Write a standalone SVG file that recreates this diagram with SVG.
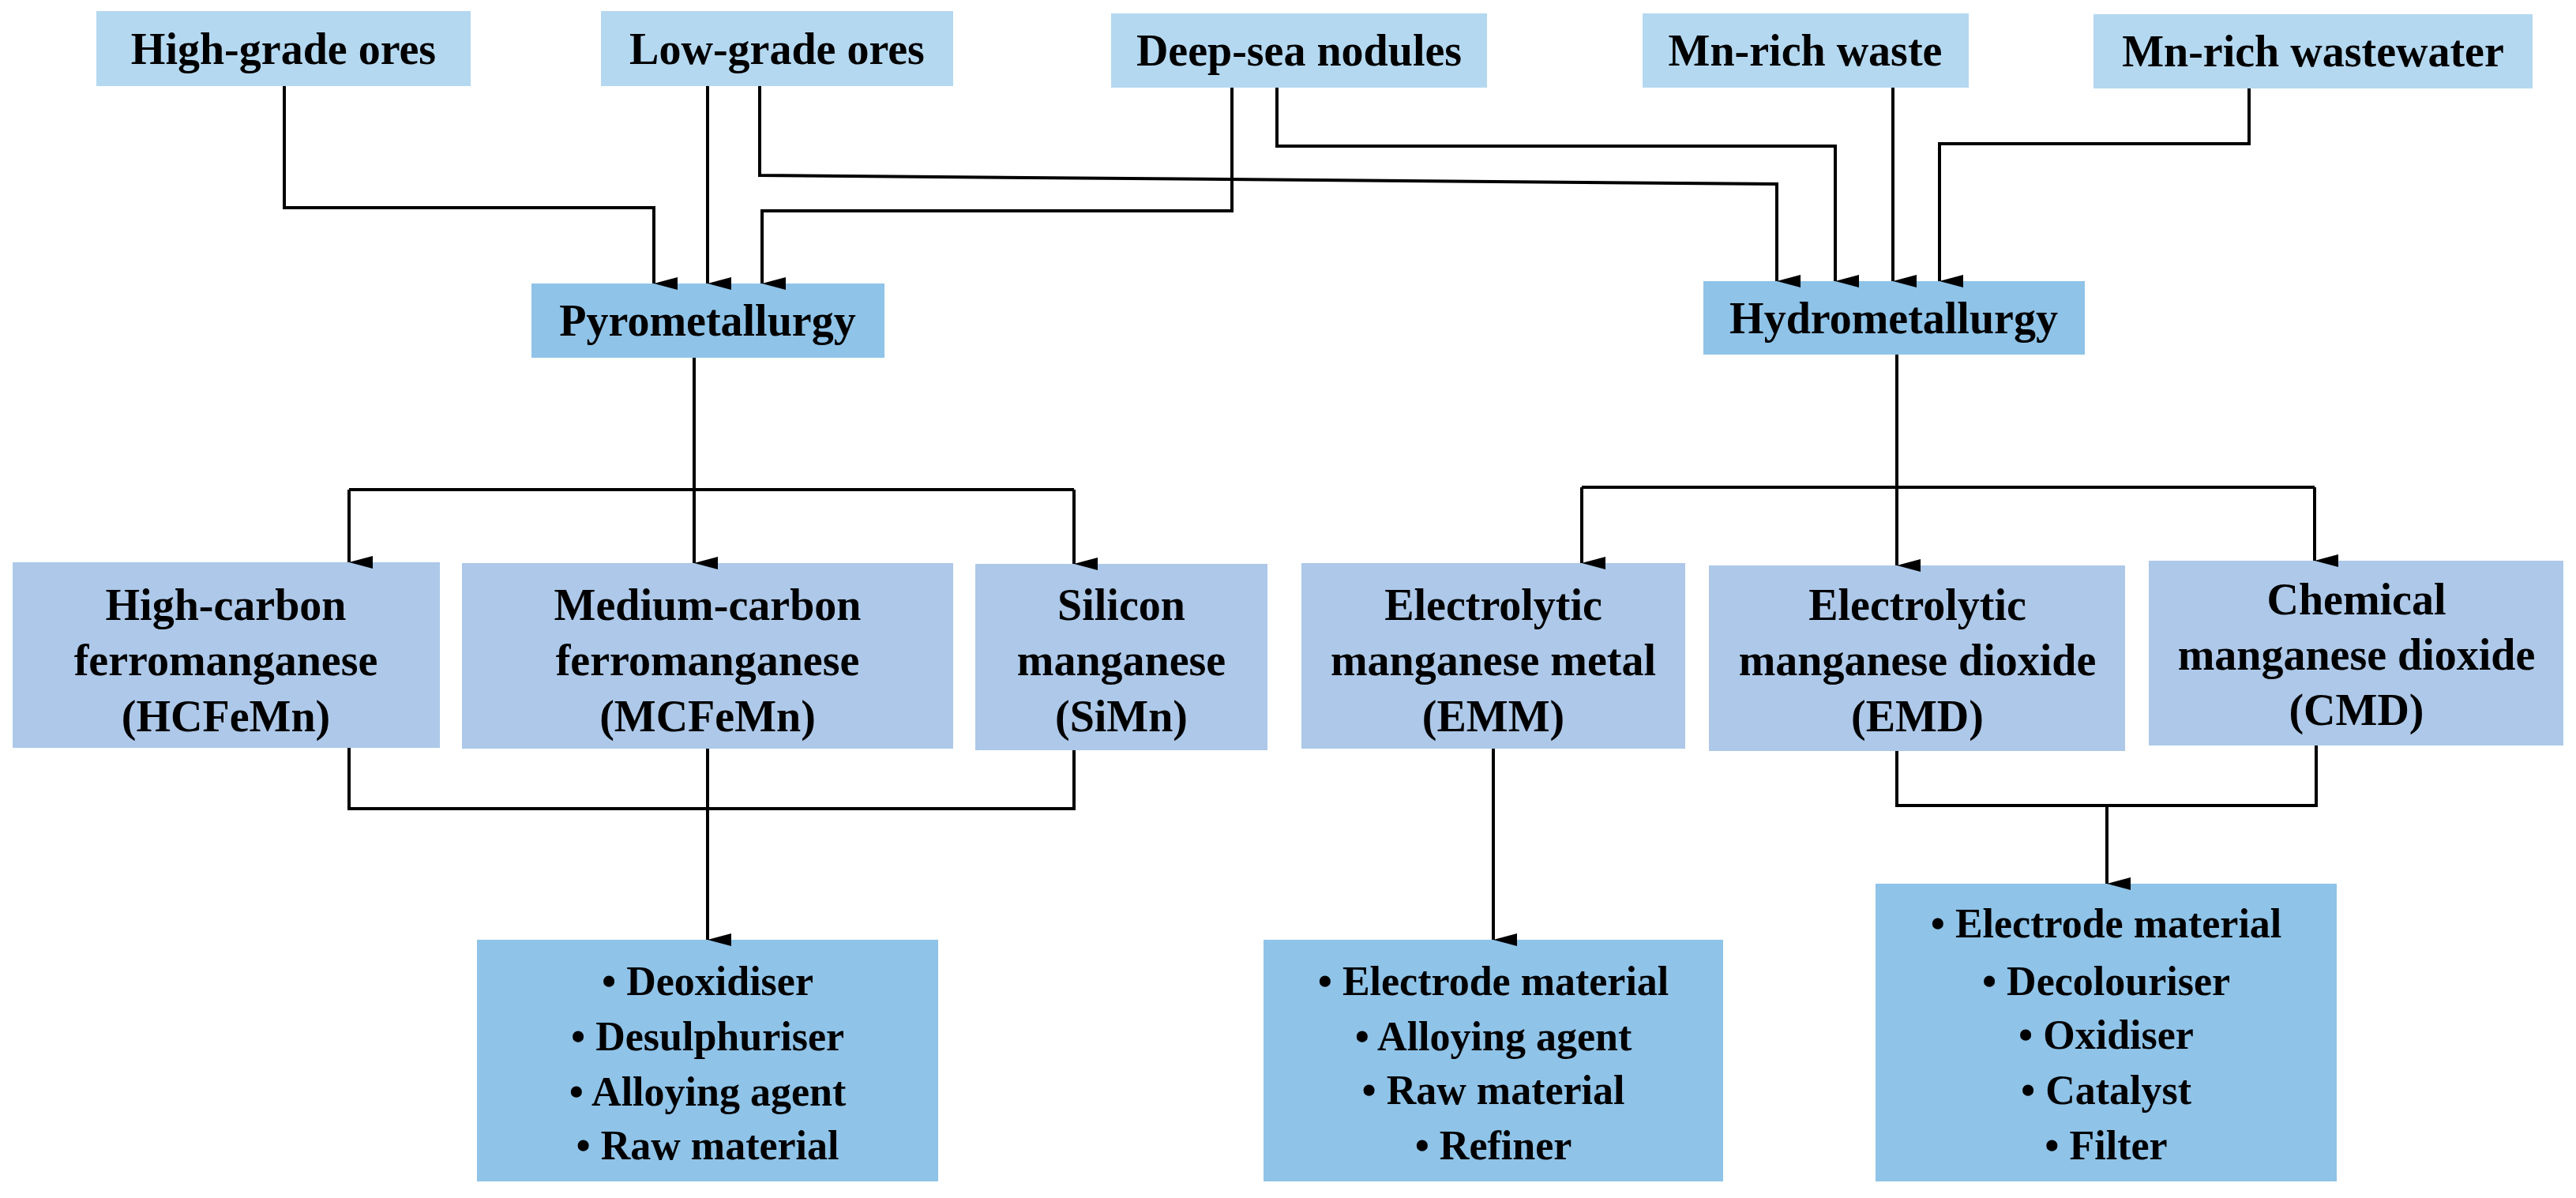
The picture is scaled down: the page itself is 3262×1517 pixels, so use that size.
<svg xmlns="http://www.w3.org/2000/svg" width="3262" height="1517" viewBox="0 0 3262 1517">
<style>
.src{fill:#b4d8f0}.proc{fill:#8fc3e8}.prod{fill:#adc8e8}.use{fill:#8fc3e8}
text{font-family:"Liberation Serif","Times New Roman",serif;font-weight:bold;fill:#000;text-anchor:middle}
.t{font-size:56px}.u{font-size:52px}
.c path{fill:none;stroke:#000;stroke-width:4}
</style>
<defs><marker id="a" markerWidth="16" markerHeight="30" refX="8" refY="30" orient="auto" markerUnits="userSpaceOnUse" viewBox="0 0 16 30"><path d="M0,0 L16,0 L8,30 Z" fill="#000" transform="rotate(0)"/></marker>
<marker id="ah" viewBox="0 0 30 16" refX="30" refY="8" markerWidth="30" markerHeight="16" orient="auto" markerUnits="userSpaceOnUse"><path d="M0,0 L30,8 L0,16 Z" fill="#000"/></marker></defs>
<g id="n-high"><rect class="src" x="122" y="14" width="474" height="95"/><text class="t" x="359" y="81">High-grade ores</text></g>
<g id="n-low"><rect class="src" x="761" y="14" width="446" height="95"/><text class="t" x="984" y="81">Low-grade ores</text></g>
<g id="n-deep"><rect class="src" x="1407" y="17" width="476" height="94"/><text class="t" x="1645" y="83">Deep-sea nodules</text></g>
<g id="n-waste"><rect class="src" x="2080" y="17" width="413" height="94"/><text class="t" x="2286" y="83">Mn-rich waste</text></g>
<g id="n-ww"><rect class="src" x="2651" y="18" width="556" height="94"/><text class="t" x="2929" y="84">Mn-rich wastewater</text></g>
<g id="n-pyro"><rect class="proc" x="673" y="359" width="447" height="94"/><text class="t" x="896" y="425">Pyrometallurgy</text></g>
<g id="n-hydro"><rect class="proc" x="2157" y="356" width="483" height="93"/><text class="t" x="2398" y="422">Hydrometallurgy</text></g>
<g id="n-hc"><rect class="prod" x="16" y="712" width="541" height="235"/><text class="t" x="286" y="785">High-carbon</text><text class="t" x="286" y="855">ferromanganese</text><text class="t" x="286" y="926">(HCFeMn)</text></g>
<g id="n-mc"><rect class="prod" x="585" y="713" width="622" height="235"/><text class="t" x="896" y="785">Medium-carbon</text><text class="t" x="896" y="855">ferromanganese</text><text class="t" x="896" y="926">(MCFeMn)</text></g>
<g id="n-si"><rect class="prod" x="1235" y="714" width="370" height="236"/><text class="t" x="1420" y="785">Silicon</text><text class="t" x="1420" y="855">manganese</text><text class="t" x="1420" y="926">(SiMn)</text></g>
<g id="n-emm"><rect class="prod" x="1648" y="713" width="486" height="235"/><text class="t" x="1891" y="785">Electrolytic</text><text class="t" x="1891" y="855">manganese metal</text><text class="t" x="1891" y="926">(EMM)</text></g>
<g id="n-emd"><rect class="prod" x="2164" y="716" width="527" height="235"/><text class="t" x="2428" y="785">Electrolytic</text><text class="t" x="2428" y="855">manganese dioxide</text><text class="t" x="2428" y="926">(EMD)</text></g>
<g id="n-cmd"><rect class="prod" x="2721" y="710" width="525" height="234"/><text class="t" x="2984" y="778">Chemical</text><text class="t" x="2984" y="848">manganese dioxide</text><text class="t" x="2984" y="918">(CMD)</text></g>
<g id="n-use1"><rect class="use" x="604" y="1190" width="584" height="306"/>
<text class="u" x="896" y="1260">•   Deoxidiser</text><text class="u" x="896" y="1330">•   Desulphuriser</text><text class="u" x="896" y="1400">•   Alloying agent</text><text class="u" x="896" y="1468">•   Raw material</text></g>
<g id="n-use2"><rect class="use" x="1600" y="1190" width="582" height="306"/>
<text class="u" x="1891" y="1260">•   Electrode material</text><text class="u" x="1891" y="1330">•   Alloying agent</text><text class="u" x="1891" y="1398">•   Raw material</text><text class="u" x="1891" y="1468">•   Refiner</text></g>
<g id="n-use3"><rect class="use" x="2375" y="1119" width="584" height="377"/>
<text class="u" x="2667" y="1187">•   Electrode material</text><text class="u" x="2667" y="1260">•   Decolouriser</text><text class="u" x="2667" y="1328">•   Oxidiser</text><text class="u" x="2667" y="1398">•   Catalyst</text><text class="u" x="2667" y="1468">•   Filter</text></g>
<g class="c" id="connectors">
<path d="M360,109 V263 H828 V359" marker-end="url(#a)"/>
<path d="M896,109 V359" marker-end="url(#a)"/>
<path d="M962,109 V222 L2250,233 V356" marker-end="url(#a)"/>
<path d="M1560,111 V267 H965 V359" marker-end="url(#a)"/>
<path d="M1617,111 V185 H2324 V356" marker-end="url(#a)"/>
<path d="M2397,111 V356" marker-end="url(#a)"/>
<path d="M2848,112 V182 H2456 V356" marker-end="url(#a)"/>
<path d="M879,453 V620"/>
<path d="M442,620 H1360"/>
<path d="M442,620 V712" marker-end="url(#a)"/>
<path d="M879,620 V713" marker-end="url(#a)"/>
<path d="M1360,620 V714" marker-end="url(#a)"/>
<path d="M2402,449 V617"/>
<path d="M2003,617 H2931"/>
<path d="M2003,617 V713" marker-end="url(#a)"/>
<path d="M2402,617 V716" marker-end="url(#a)"/>
<path d="M2931,617 V710" marker-end="url(#a)"/>
<path d="M442,947 V1024 H1360 V950"/>
<path d="M896,948 V1190" marker-end="url(#a)"/>
<path d="M1891,948 V1190" marker-end="url(#a)"/>
<path d="M2402,951 V1020 H2933 V944"/>
<path d="M2668,1020 V1119" marker-end="url(#a)"/>
</g>
</svg>
